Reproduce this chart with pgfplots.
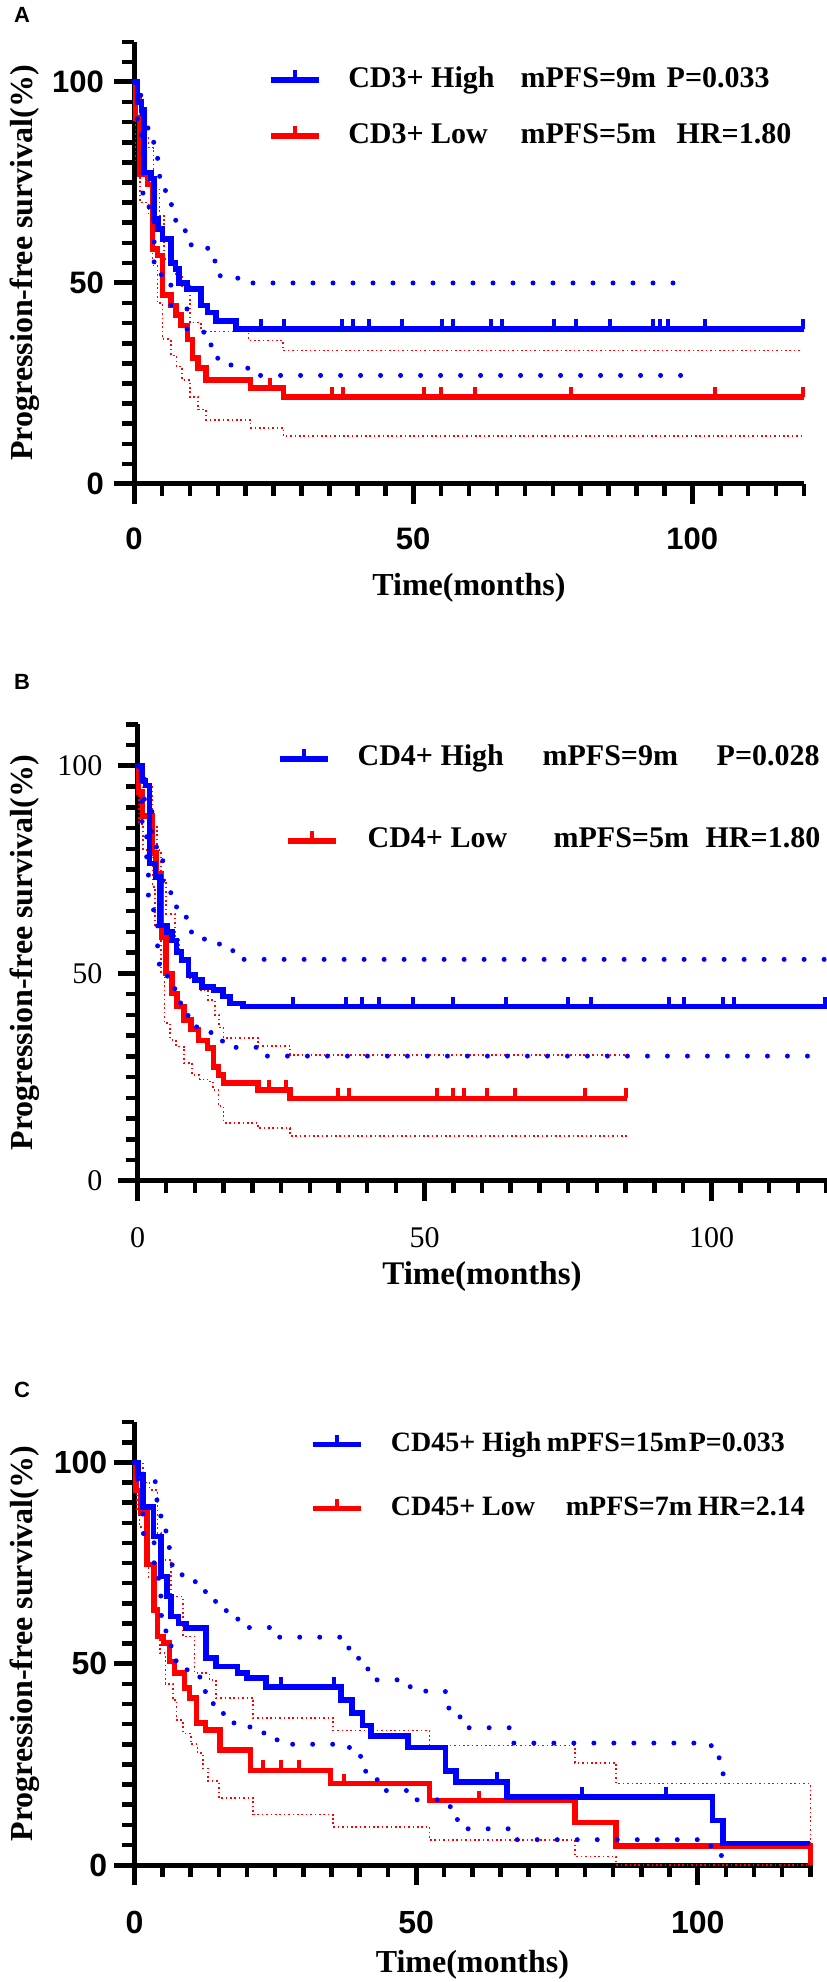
\documentclass[border=0pt]{standalone}
\usepackage{fontspec}
\setmainfont{Liberation Serif}
\newfontfamily\arialf{Liberation Sans}
\usepackage{pgfplots}
\pgfplotsset{compat=1.18}

\definecolor{kmblue}{RGB}{0,0,255}
\definecolor{kmred}{RGB}{255,0,0}

\pgfdeclareplotmark{cens}{\pgfpathmoveto{\pgfqpoint{0pt}{0pt}}\pgfpathlineto{\pgfqpoint{0pt}{10pt}}\pgfusepathqstroke}

\pgfplotsset{
  km/.style={
    scale only axis, axis lines=left, axis line style={line width=5pt,-},
    xmin=0,xmax=120,ymin=0,ymax=110,
    xtick={0,50,100}, ytick={0,50,100},
    minor xtick={5,10,15,20,25,30,35,40,45,55,60,65,70,75,80,85,90,95,105,110,115,120},
    minor ytick={5,10,15,20,25,30,35,40,45,55,60,65,70,75,80,85,90,95,105,110},
    tick align=outside, major tick length=20pt, minor tick length=12pt,
    every major tick/.append style={line width=5pt,black},
    every minor tick/.append style={line width=4.5pt,black},
    /pgf/number format/assume math mode=true,
    clip=false,
    legend cell align=left,
    ylabel={Progression-free survival(\%)}, xlabel={Time(months)},
    label style={font=\bfseries\fontsize{32pt}{32pt}\selectfont},
  },
  kmline/.style={const plot, line width=5.5pt, forget plot},
  kmcens/.style={only marks, mark=cens, mark options={line width=4pt}, forget plot},
  bci/.style={const plot, kmblue, line width=5pt, line cap=round, dash pattern=on 0pt off 20pt, forget plot},
  rci/.style={const plot, kmred, line width=1.6pt, dash pattern=on 1.6pt off 2.8pt, forget plot},
  legblue/.style={kmblue, legend image code/.code={\draw[line width=5.5pt] (0pt,0pt) -- (48pt,0pt); \draw[line width=4pt] (24pt,0pt) -- (24pt,10pt);}},
  legred/.style={kmred, legend image code/.code={\draw[line width=5.5pt] (0pt,0pt) -- (48pt,0pt); \draw[line width=4pt] (24pt,0pt) -- (24pt,10pt);}},
  legredB/.style={kmred, legend image code/.code={\draw[line width=5.5pt] (8pt,0pt) -- (56pt,0pt); \draw[line width=4pt] (32pt,0pt) -- (32pt,10pt);}},
}

\begin{document}
\begin{tikzpicture}
\path[use as bounding box] (0,0) rectangle (827pt,1982pt);

\node[font=\arialf\bfseries\fontsize{22pt}{22pt}\selectfont] at (22pt,1967pt) {A};
\node[font=\arialf\bfseries\fontsize{22pt}{22pt}\selectfont] at (22pt,1300pt) {B};
\node[font=\arialf\bfseries\fontsize{22pt}{22pt}\selectfont] at (22pt,592pt) {C};

%%%%%%%%%%%%%%%%%%%% PANEL A
\begin{axis}[km, at={(134pt,1498pt)}, anchor=south west, width=670pt, height=442.2pt,
  ticklabel style={font=\arialf\bfseries\fontsize{31pt}{31pt}\selectfont},
  xticklabel style={inner sep=24pt}, yticklabel style={inner sep=10pt},
  ylabel style={at={([xshift=-109pt]axis description cs:0,0.5)}, anchor=center},
  xlabel style={at={([yshift=-104pt]axis description cs:0.5,0)}, anchor=center},
  legend style={at={(axis description cs:0.2,0.85)}, anchor=west, draw=none, fill=none,
    inner sep=0pt, row sep=28pt, column sep=26.6pt,
    font=\bfseries\fontsize{30pt}{30pt}\selectfont,
    nodes={inner sep=0pt, text height=21pt, text depth=7pt}},
]
\addlegendimage{legblue}
\addlegendentry{\makebox[172.4pt][l]{CD3+ High}\makebox[146pt][l]{mPFS=9m}P=0.033}
\addlegendimage{legred}
\addlegendentry{\makebox[172.4pt][l]{CD3+ Low}\makebox[156pt][l]{mPFS=5m}HR=1.80}

\addplot[rci] coordinates {(0,100)(0.4,96)(1.2,86)(2.6,83.7)(3.5,73.3)(4.6,66.7)(5.4,56)(7.5,52)(8.6,49.3)(10,40.2)(12,37.9)(20.5,35.7)(26.7,33.2)(119.5,33.2)};
\addplot[rci] coordinates {(0,100)(0.3,80)(1.1,70)(2.6,66.7)(3.3,54.3)(4.2,45)(5.1,36)(6.6,32)(7.6,29.2)(8.6,25.9)(10,21.7)(11.5,18.5)(12.9,15.9)(20.9,14)(26.8,11.9)(119.5,11.9)};
\addplot[kmline, kmred] coordinates {(0,100)(0.3,91)(1.1,77)(2.4,74.5)(3.3,58.5)(4.2,56.8)(5.1,47)(6.6,44.4)(7.5,42)(8.4,39.4)(9.6,36)(10.5,31.3)(11.5,28.8)(12.9,25.9)(20.9,23.9)(26.8,21.7)(120,21.7)};
\addplot[kmcens, kmred] coordinates {(24.3,23.9)(35.5,21.7)(37.5,21.7)(52,21.7)(55,21.7)(61,21.7)(78.2,21.7)(104,21.7)(119.8,21.7)};
\addplot[kmline, kmblue] coordinates {(0,100)(0.6,95)(1.3,93)(1.8,77.5)(3.0,76)(3.6,66)(4.3,63.4)(5.1,61)(6.6,55)(7.4,53.5)(8.1,50)(9.5,48.5)(12,44.4)(13.2,42.7)(14.7,40.6)(18.3,38.5)(120,38.5)};
\addplot[kmcens, kmblue] coordinates {(22.8,38.5)(26.9,38.5)(37.3,38.5)(39.2,38.5)(42,38.5)(48,38.5)(55.2,38.5)(57.1,38.5)(63.9,38.5)(65.9,38.5)(75.2,38.5)(79.1,38.5)(85.2,38.5)(92.9,38.5)(94.2,38.5)(95.6,38.5)(102.3,38.5)(119.8,38.5)};
\addplot[bci] coordinates {(0,100)(1.2,92)(2.5,85)(3.6,81)(4.6,73)(5.8,70.4)(6.7,65.6)(8.3,63)(9.5,59.5)(12.2,58.9)(13.2,55.5)(14.5,51.8)(18,51.2)(20,50)(100,50)};
\addplot[bci] coordinates {(0,100)(0.6,88)(1.3,85)(1.6,72)(2.7,67.7)(3.6,54.5)(4.9,52)(6.6,44)(9.5,38)(12.5,36.6)(13.8,33.4)(15,29.6)(18.2,28.8)(20.4,27)(100,27)};
\end{axis}

%%%%%%%%%%%%%%%%%%%% PANEL B
\begin{axis}[km, at={(137.5pt,801pt)}, anchor=south west, width=689pt, height=456.5pt,
  ticklabel style={font=\fontsize{30pt}{30pt}\selectfont},
  xticklabel style={inner sep=26pt}, yticklabel style={inner sep=15pt},
  ylabel style={at={([xshift=-112.5pt]axis description cs:0,0.5)}, anchor=center},
  xlabel style={at={([yshift=-95.7pt]axis description cs:0.5,0)}, anchor=center, font=\bfseries\fontsize{33pt}{33pt}\selectfont},
  legend style={at={(axis description cs:0.202,0.835)}, anchor=west, draw=none, fill=none,
    inner sep=0pt, row sep=54pt, column sep=19.3pt,
    font=\bfseries\fontsize{30pt}{30pt}\selectfont,
    nodes={inner sep=0pt, text height=21pt, text depth=7pt}},
]
\addlegendimage{legblue}
\addlegendentry{\makebox[185pt][l]{CD4+ High}\makebox[174pt][l]{mPFS=9m}P=0.028}
\addlegendimage{legredB}
\addlegendentry{\hspace*{10pt}\makebox[186pt][l]{CD4+ Low}\makebox[152pt][l]{mPFS=5m}HR=1.80}

\addplot[rci] coordinates {(0,100)(0.3,98)(1,95)(2.6,85.3)(3.4,79.7)(4.1,72.5)(5,64.4)(6.5,58)(7.3,53.2)(8.8,48.9)(11,46)(12.3,43.6)(13.5,40)(14.2,37)(15,34.4)(21,32.5)(26.6,30.4)(85.2,30.4)};
\addplot[rci] coordinates {(0,100)(0.3,86)(1,79.7)(2.6,70.9)(3.1,61.2)(4.1,50)(4.7,38)(5.7,34)(6.7,32.4)(8.1,28.4)(9.5,25.5)(10.8,24.5)(12.2,24)(13.2,21.9)(14.1,18)(15,14)(21,12.7)(26.6,10.8)(85.2,10.8)};
\addplot[kmline, kmred] coordinates {(0,100)(0.2,93.7)(0.9,88)(2.5,79)(3.2,74)(4.2,58.8)(5,50)(6,45.2)(6.9,42)(8.1,38.8)(9.3,36.5)(10.6,33.8)(12.2,32)(13.2,27.5)(14.1,25.5)(15,23.6)(21,21.9)(26.6,19.9)(85.2,19.9)};
\addplot[kmcens, kmred] coordinates {(22.9,21.9)(25.9,21.9)(34.9,19.9)(36.8,19.9)(52.1,19.9)(55,19.9)(56.9,19.9)(60.9,19.9)(65.8,19.9)(78,19.9)(85,19.9)};
\addplot[kmline, kmblue] coordinates {(0,100)(0.75,96.5)(1.4,95.3)(2.1,76.5)(3.1,73.3)(3.9,61.6)(5.1,60)(6,58)(6.8,55.2)(7.7,53.2)(8.9,49.6)(10,48.4)(11.2,46.8)(13.2,46)(14.9,44.4)(16.1,42.8)(18.4,42)(120,42)};
\addplot[kmcens, kmblue] coordinates {(27.1,42)(36.3,42)(39.1,42)(42.1,42)(47.9,42)(55,42)(64.1,42)(75,42)(78.9,42)(92.6,42)(95.1,42)(101.9,42)(103.9,42)(119.8,42)};
\addplot[bci] coordinates {(0,100)(1.2,92)(2.5,84)(3.3,80)(4.4,72)(5.8,67.5)(6.8,64)(8.5,60)(10,58.3)(12.5,57.1)(14.5,55.5)(16.8,54.5)(18.4,53.4)(120,53.4)};
\addplot[bci] coordinates {(0,100)(0.8,86)(1.6,76)(1.9,68.6)(2.8,65)(3.5,56.6)(3.8,51.6)(5.2,48.8)(6.5,45.8)(7.5,42.2)(8.8,38.8)(10.3,36)(12.8,34.2)(14.8,32.2)(20.8,30.1)(117.8,30.1)};
\end{axis}

%%%%%%%%%%%%%%%%%%%% PANEL C
\begin{axis}[km, at={(134.4pt,117pt)}, anchor=south west, width=676pt, height=442.75pt,
  ticklabel style={font=\arialf\bfseries\fontsize{32pt}{32pt}\selectfont},
  xticklabel style={inner sep=26pt}, yticklabel style={inner sep=7pt},
  ylabel style={at={([xshift=-109.4pt]axis description cs:0,0.5)}, anchor=center},
  xlabel style={at={([yshift=-100pt]axis description cs:0.5,0)}, anchor=center},
  legend style={at={(axis description cs:0.26,0.877)}, anchor=west, draw=none, fill=none,
    inner sep=0pt, row sep=37pt, column sep=27pt,
    font=\bfseries\fontsize{28pt}{28pt}\selectfont,
    nodes={inner sep=0pt, text height=20pt, text depth=7pt}},
]
\addlegendimage{legblue}
\addlegendentry{\makebox[156pt][l]{CD45+ High}\makebox[142pt][l]{mPFS=15m}P=0.033}
\addlegendimage{legred}
\addlegendentry{\makebox[175pt][l]{CD45+ Low}\makebox[132pt][l]{mPFS=7m}HR=2.14}

\addplot[rci] coordinates {(0,100)(1.5,95)(2.7,93.2)(4.1,82.5)(4.7,75.8)(6.5,66.7)(8.6,56.8)(10.7,47.7)(13.3,46)(14.5,41.5)(21.1,36.5)(35.3,33.4)(52.4,29.7)(78.2,25.4)(85.5,20.2)(120,20.2)(120,0)};
\addplot[rci] coordinates {(0,100)(0.5,88)(0.9,84)(2.5,71.3)(3.3,63.4)(4.2,56)(4.5,52.6)(5.5,45)(6.8,41)(7.5,36)(8.6,32.7)(10,30)(11.2,27.8)(12.2,24)(13.1,20.8)(15,16.6)(21.1,12.5)(35.3,9.5)(52.4,6.2)(78.2,2.1)(85.5,0)(120,0)};
\addplot[kmline, kmred] coordinates {(0,100)(0.3,93)(1.2,87.4)(2.2,74.6)(3.5,63.4)(4.1,56.8)(5.2,55.1)(6.2,50.6)(7.1,47.7)(8.9,44)(9.8,41.5)(11,35.3)(12.6,33.6)(15.2,28.6)(20.6,23.5)(34.8,20.2)(52.4,16)(78.2,10.5)(85.5,4.7)(120,4.7)(120,0)};
\addplot[kmcens, kmred] coordinates {(22.8,23.5)(26,23.5)(29.2,23.5)(37.2,20.2)(61.2,16)};
\addplot[kmline, kmblue] coordinates {(0,100)(0.6,97)(1.5,89)(3.4,81.6)(4.7,71.7)(5.8,66.7)(6.5,61.8)(7.8,60)(9.2,58.9)(12.7,51.4)(14.5,49.3)(18.3,47.7)(20,46.4)(23.4,44.2)(36.7,41)(38.6,37.8)(40.5,34.6)(42,32.1)(48.6,29.2)(55.2,23.4)(57.1,20.6)(66.1,16.9)(102.6,11.1)(104.5,5.3)(120,5.3)};
\addplot[kmcens, kmblue] coordinates {(26.1,44.2)(35.5,44.2)(64.4,20.6)(79.4,16.9)(94.3,16.9)};
\addplot[bci] coordinates {(0,100)(1.5,97)(3.7,93)(4,88.7)(4.7,84.5)(5.6,80.8)(6.2,76.5)(6.7,72.1)(9.1,70.4)(11.4,68.8)(12.6,65.5)(14.5,63.2)(16.6,61.1)(18.6,59)(24.1,56.6)(36.5,53.9)(38.3,51.4)(39.8,48.7)(41.6,46)(48.3,44.3)(50.9,43.2)(55.2,39)(57.1,36.8)(58.8,34.1)(67.2,30.3)(102.4,29.3)(103.8,26.2)(104.5,22)(104.6,22)};
\addplot[bci] coordinates {(0,100)(0.6,92)(1.5,85.3)(1.6,80.8)(3.5,75)(4.3,70)(4.7,65.1)(4.8,59.9)(5.6,56.2)(6.5,52.8)(7.4,48.5)(9.6,46.7)(11.7,44.8)(12.6,40.9)(14,37.7)(15.8,35.3)(18.6,34.3)(21.1,32.8)(23.7,31.1)(27.1,30)(36.7,29.2)(38.6,27)(40.2,23.3)(42.1,21.2)(43.8,18.5)(48.6,16.2)(55.2,14.5)(56.6,11.3)(57.5,9)(66.6,6.3)(102.3,4.7)(104.2,2.2)(104.3,2.2)};
\end{axis}
\end{tikzpicture}
\end{document}
